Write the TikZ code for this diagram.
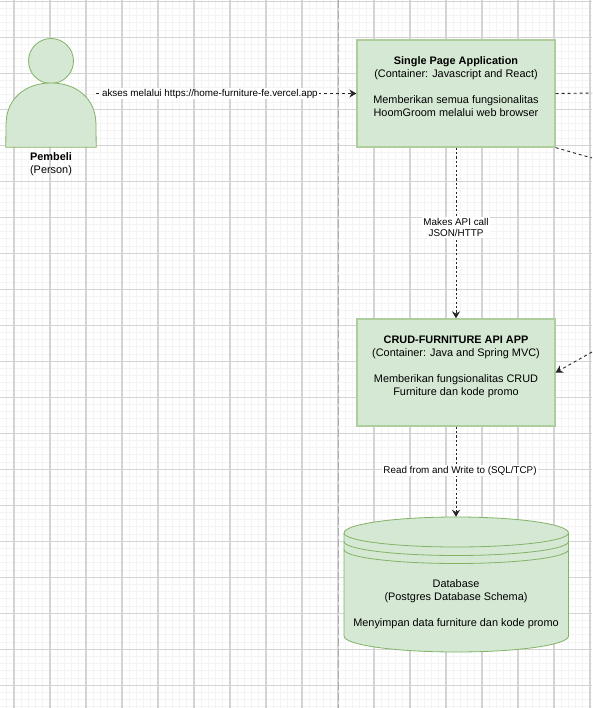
\documentclass[tikz,border=0pt]{standalone}
\usepackage{xcolor}
\usepackage{fontspec}
\setmainfont{Liberation Sans}
\usepackage{tikz}
\usetikzlibrary{arrows.meta,positioning,calc}

\definecolor{boxfill}{HTML}{D5E8D4}
\definecolor{boxline}{HTML}{82B366}
\definecolor{gridmajor}{HTML}{D4D4D4}
\definecolor{gridminor}{HTML}{F4F4F4}

\tikzset{
  container/.style={draw=boxline!65!white, line width=1.3pt, fill=boxfill, minimum width=198pt,
    minimum height=107pt, align=center, inner sep=0pt, font=\fontsize{10.9}{13}\selectfont},
  flow/.style={dash pattern=on 3pt off 3pt, line width=0.9pt, black!85, -{Stealth[length=7pt,width=8pt]}},
  downflow/.style={flow, dash pattern=on 2.2pt off 2.2pt, line width=1pt},
  plainflow/.style={flow, -},
  flowlabel/.style={fill=white, text=black, inner sep=1pt, align=center, font=\fontsize{9.85}{11}\selectfont},
}

\begin{document}
\begin{tikzpicture}[x=1pt, y=-1pt]
  \useasboundingbox (0,0) rectangle (592,708);
  \clip (0,0) rectangle (592,708);
  \fill[white] (0,0) rectangle (592,708);

  % Grid
  \foreach \i in {0,...,82} {
    \draw[gridminor, line width=1pt] ({-0.4+7.2*\i},0) -- ++(0,708);
  }
  \foreach \i in {0,...,98} {
    \draw[gridminor, line width=1pt] (0,{1.3+7.2*\i}) -- ++(592,0);
  }
  \foreach \i in {0,...,16} {
    \draw[gridmajor, line width=1.1pt] ({14+36*\i},0) -- ++(0,708);
  }
  \foreach \i in {0,...,19} {
    \draw[gridmajor, line width=1.1pt] (0,{1.3+36*\i}) -- ++(592,0);
  }

  % Page break
  \draw[gray!65, line width=1.1pt, dash pattern=on 8pt off 3pt] (338.4,0) -- (338.4,708);

  % Person
  \node[circle, draw=boxline, fill=boxfill, line width=0.8pt, minimum size=45pt, inner sep=0pt] (head) at (51,61) {};
  \node[minimum width=90pt, minimum height=64pt, inner sep=0pt] (body) at (51,115) {};
  \draw[draw=boxline, fill=boxfill, line width=0.8pt] (body.south west) -- (6,125)
    .. controls (6,98) and (26,83) .. (51,83)
    .. controls (76,83) and (96,98) .. (96,125) -- (body.south east) -- cycle;
  \node[align=center, font=\fontsize{10.9}{13}\selectfont] (pembeli) at (51,164.5) {\textbf{Pembeli}\\(Person)};

  % Containers
  \node[container] (spa) at (456,93.5) {\textbf{Single Page Application}\\(Container: Javascript and React)\\~\\Memberikan semua fungsionalitas\\HoomGroom melalui web browser\\~};
  \node[container] (api) at (456,372.5) {\textbf{CRUD-FURNITURE API APP}\\(Container: Java and Spring MVC)\\~\\Memberikan fungsionalitas CRUD\\Furniture dan kode promo\\~};

  % Database
  \node[minimum width=224.5pt, minimum height=135pt, inner sep=0pt] (db) at (456,584.5) {};
  \draw[draw=boxline, fill=boxfill, line width=0.8pt] (344,533)
    arc[start angle=180, end angle=0, x radius=112.25pt, y radius=16pt]
    -- (568.5,636) arc[start angle=0, end angle=-180, x radius=112.25pt, y radius=16pt] -- cycle;
  \foreach \h in {533,541.5,549.5} {
    \draw[boxline, line width=0.8pt] (344,\h) arc[start angle=180, end angle=360, x radius=112.25pt, y radius=14pt];
  }
  \node[align=center, font=\fontsize{10.9}{13}\selectfont] (dbtext) at (456,604.5) {Database\\(Postgres Database Schema)\\~\\Menyimpan data furniture dan kode promo};

  % Connectors
  \coordinate (offeast) at (592,93);
  \coordinate (offsouth) at (592,158);
  \coordinate (offapi) at (592,352);
  \draw[flow] (body.east |- spa.west) -- node[flowlabel, pos=0.437] (akses) {akses melalui https://home-furniture-fe.vercel.app} (spa.west);
  \draw[plainflow] (spa.east) -- (offeast);
  \draw[plainflow] (spa.south east) -- (offsouth);
  \draw[flow] (offapi) -- (api.east);
  \draw[downflow] (spa.south) -- node[flowlabel, pos=0.468] (apicall) {Makes API call\\JSON/HTTP} (api.north);
  \draw[downflow] (api.south) -- node[flowlabel, pos=0.49, xshift=4pt] (readwrite) {Read from and Write to (SQL/TCP)} (db.north);
\end{tikzpicture}
\end{document}
